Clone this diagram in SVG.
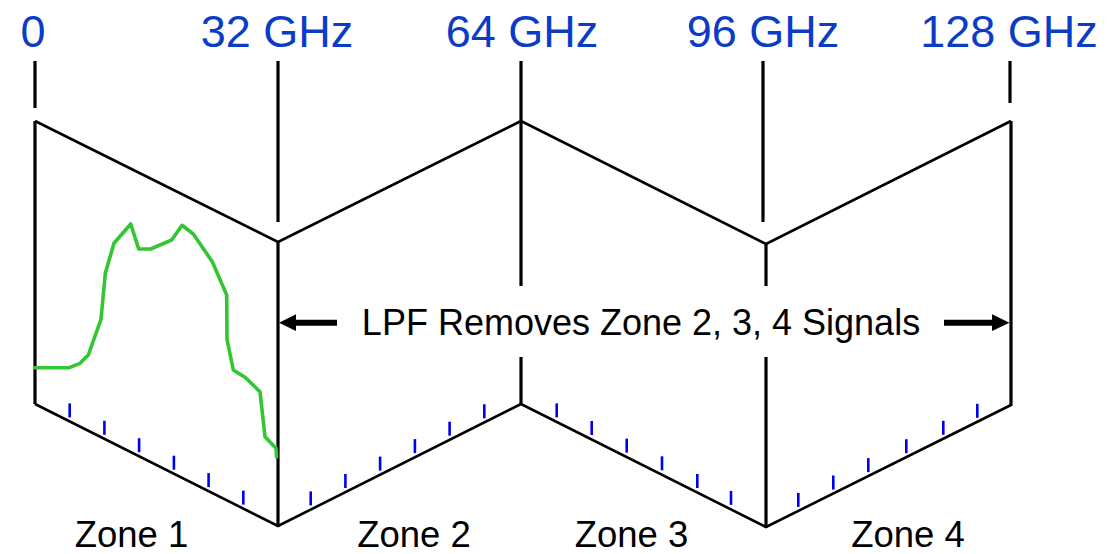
<svg xmlns="http://www.w3.org/2000/svg" width="1112" height="554" viewBox="0 0 1112 554">
<style>
.freq{font-family:"Liberation Sans",Arial,sans-serif;font-size:45px;fill:#0A3CC8;text-anchor:middle}
.lbl{font-family:"Liberation Sans",Arial,sans-serif;font-size:36px;fill:#000;text-anchor:middle}
.zl{font-family:"Liberation Sans",Arial,sans-serif;font-size:36.5px;fill:#000;text-anchor:middle}
.ln{stroke:#000;stroke-width:2.6;fill:none;stroke-linejoin:miter}
.vt{stroke:#000;stroke-width:3.2;fill:none}
.tk{stroke:#0000F0;stroke-width:2.6}
.sig{stroke:#33C633;stroke-width:3.6;fill:none;stroke-linejoin:round}
.arr{stroke:#000;stroke-width:6}
</style>
<rect width="1112" height="554" fill="#fff"/>
<g id="freq-labels">
<text class="freq" x="33" y="46.5">0</text>
<text class="freq" x="277" y="46.5">32 GHz</text>
<text class="freq" x="522" y="46.5">64 GHz</text>
<text class="freq" x="763" y="46.5">96 GHz</text>
<text class="freq" x="1009" y="46.5">128 GHz</text>
</g>
<g id="freq-ticks">
<line class="vt" x1="35" y1="61" x2="35" y2="108"/>
<line class="vt" x1="278" y1="61" x2="278" y2="222"/>
<line class="vt" x1="521" y1="61" x2="521" y2="286"/>
<line class="vt" x1="763" y1="61" x2="763" y2="222"/>
<line class="vt" x1="1010" y1="61" x2="1010" y2="103"/>
</g>
<g id="panels">
<polyline class="ln" points="35,121 278,242 521,121 766,244 1011,121"/>
<polyline class="ln" points="35,404 278,526 521,404 766,527 1011,405"/>
<line class="vt" x1="35" y1="121" x2="35" y2="404"/>
<line class="vt" x1="278" y1="242" x2="278" y2="527"/>
<line class="vt" x1="521" y1="357" x2="521" y2="405"/>
<line class="vt" x1="766" y1="244" x2="766" y2="286"/>
<line class="vt" x1="766" y1="357" x2="766" y2="528"/>
<line class="vt" x1="1011" y1="121" x2="1011" y2="406"/>
</g>
<g id="axis-ticks">
<line class="tk" x1="69.7" y1="403.4" x2="69.7" y2="417.4"/>
<line class="tk" x1="104.4" y1="420.8" x2="104.4" y2="434.8"/>
<line class="tk" x1="139.1" y1="438.2" x2="139.1" y2="452.2"/>
<line class="tk" x1="173.9" y1="455.7" x2="173.9" y2="469.7"/>
<line class="tk" x1="208.6" y1="473.1" x2="208.6" y2="487.1"/>
<line class="tk" x1="243.3" y1="490.6" x2="243.3" y2="504.6"/>
<line class="tk" x1="310.7" y1="491.4" x2="310.7" y2="505.4"/>
<line class="tk" x1="345.4" y1="474" x2="345.4" y2="488"/>
<line class="tk" x1="380.1" y1="456.6" x2="380.1" y2="470.6"/>
<line class="tk" x1="414.9" y1="439.1" x2="414.9" y2="453.1"/>
<line class="tk" x1="449.6" y1="421.7" x2="449.6" y2="435.7"/>
<line class="tk" x1="484.3" y1="404.3" x2="484.3" y2="418.3"/>
<line class="tk" x1="556.7" y1="403.4" x2="556.7" y2="417.4"/>
<line class="tk" x1="591.7" y1="421" x2="591.7" y2="435"/>
<line class="tk" x1="626.7" y1="438.6" x2="626.7" y2="452.6"/>
<line class="tk" x1="662" y1="456.3" x2="662" y2="470.3"/>
<line class="tk" x1="697.3" y1="474" x2="697.3" y2="488"/>
<line class="tk" x1="731" y1="490.9" x2="731" y2="504.9"/>
<line class="tk" x1="798.3" y1="492.9" x2="798.3" y2="506.9"/>
<line class="tk" x1="833.3" y1="475.5" x2="833.3" y2="489.5"/>
<line class="tk" x1="868.3" y1="458.1" x2="868.3" y2="472.1"/>
<line class="tk" x1="906.3" y1="439.2" x2="906.3" y2="453.2"/>
<line class="tk" x1="943.3" y1="420.8" x2="943.3" y2="434.8"/>
<line class="tk" x1="977.3" y1="403.8" x2="977.3" y2="417.8"/>
</g>
<g id="signal">
<polyline class="sig" points="33,367.7 69.3,367.7 80,363.3 88.3,355 101,319.3 105.3,273.3 114,243.3 130.7,224 138.7,249 150.7,249 171.7,240 182,225.3 193.3,234 212.3,261.7 226.7,295 227,339.3 233.3,370 245,377.3 260,391.7 265,436.7 276,448.3 276.7,458.3"/>
</g>
<g id="connectors">
<line class="arr" x1="294" y1="322.7" x2="337" y2="322.7"/>
<polygon points="279,322.7 296,314.3 296,331.1" fill="#000"/>
<line class="arr" x1="944" y1="322.7" x2="994" y2="322.7"/>
<polygon points="1009.5,322.7 992,314.3 992,331.1" fill="#000"/>
</g>
<g id="lpf-label">
<text class="lbl" x="641" y="335">LPF Removes Zone 2, 3, 4 Signals</text>
</g>
<g id="zone-labels">
<text class="zl" x="131.5" y="546.5">Zone 1</text>
<text class="zl" x="414" y="546.5">Zone 2</text>
<text class="zl" x="631.5" y="546.5">Zone 3</text>
<text class="zl" x="908" y="546.5">Zone 4</text>
</g>
</svg>
